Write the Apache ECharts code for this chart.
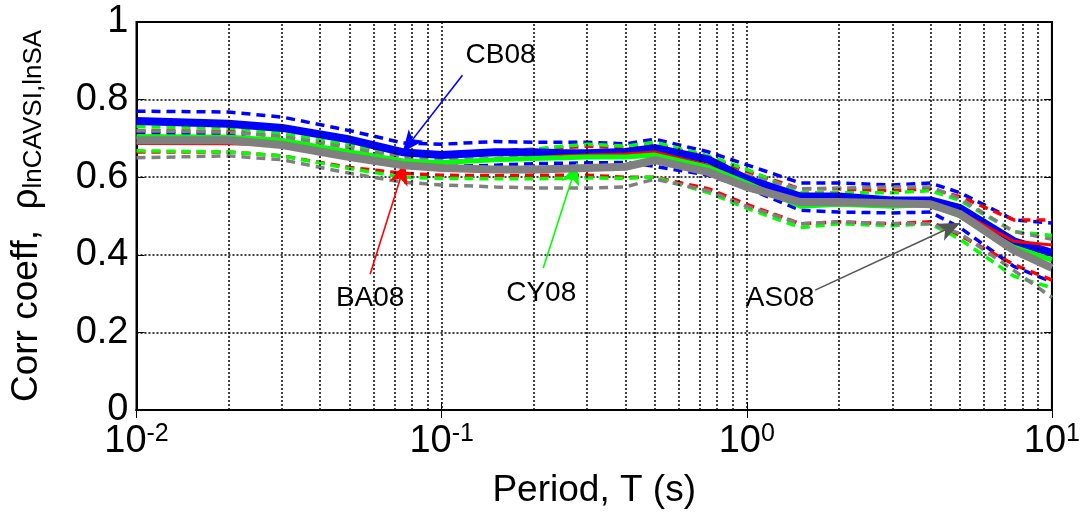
<!DOCTYPE html>
<html><head><meta charset="utf-8">
<script src="https://cdn.jsdelivr.net/npm/echarts@6/dist/echarts.min.js"></script>
<style>html,body{margin:0;padding:0;background:#fff}#c{width:1083px;height:517px}</style>
</head><body><div id="c"></div>
<script>
// Period values (s)
const periods = [0.01,0.02,0.03,0.05,0.075,0.1,0.15,0.2,0.25,0.3,0.4,0.5,0.75,1,1.5,2,3,4,5,7.5,10];

// CB08 (blue)
const cb08   = [0.745,0.738,0.727,0.697,0.664,0.657,0.664,0.664,0.662,0.662,0.665,0.675,0.645,0.595,0.550,0.550,0.540,0.540,0.520,0.435,0.405];
const cb08Hi = [0.770,0.768,0.755,0.720,0.688,0.685,0.692,0.690,0.690,0.690,0.686,0.698,0.665,0.632,0.585,0.585,0.580,0.585,0.560,0.490,0.482];
const cb08Lo = [0.714,0.709,0.690,0.660,0.637,0.627,0.631,0.635,0.636,0.637,0.638,0.628,0.605,0.572,0.515,0.510,0.508,0.510,0.470,0.370,0.330];
// BA08 (red)
const ba08   = [0.687,0.686,0.683,0.660,0.638,0.640,0.645,0.650,0.655,0.657,0.660,0.665,0.630,0.585,0.535,0.535,0.532,0.535,0.510,0.435,0.425];
const ba08Hi = [0.720,0.718,0.705,0.680,0.655,0.660,0.668,0.672,0.676,0.680,0.676,0.685,0.652,0.615,0.570,0.570,0.565,0.570,0.550,0.490,0.490];
const ba08Lo = [0.665,0.665,0.655,0.625,0.610,0.605,0.604,0.605,0.605,0.605,0.600,0.600,0.570,0.530,0.480,0.485,0.480,0.485,0.450,0.375,0.335];
// CY08 (green)
const cy08   = [0.705,0.703,0.695,0.665,0.642,0.638,0.645,0.648,0.650,0.652,0.652,0.657,0.625,0.585,0.525,0.530,0.525,0.530,0.500,0.420,0.387];
const cy08Hi = [0.730,0.727,0.712,0.682,0.660,0.658,0.665,0.672,0.680,0.685,0.680,0.690,0.655,0.620,0.560,0.560,0.560,0.565,0.540,0.460,0.450];
const cy08Lo = [0.668,0.665,0.655,0.622,0.600,0.597,0.596,0.596,0.597,0.598,0.597,0.600,0.560,0.520,0.470,0.480,0.475,0.480,0.440,0.345,0.315];
// AS08 (gray)
const as08   = [0.695,0.695,0.683,0.652,0.631,0.624,0.620,0.620,0.622,0.624,0.627,0.644,0.613,0.575,0.536,0.536,0.533,0.530,0.505,0.412,0.366];
const as08Hi = [0.720,0.716,0.705,0.675,0.650,0.645,0.648,0.655,0.660,0.665,0.665,0.680,0.645,0.605,0.570,0.572,0.575,0.575,0.545,0.460,0.440];
const as08Lo = [0.650,0.655,0.645,0.610,0.587,0.580,0.575,0.572,0.572,0.572,0.575,0.595,0.565,0.525,0.480,0.485,0.480,0.480,0.455,0.360,0.290];

// axis ticks
const yTicks = [0, 0.2, 0.4, 0.6, 0.8, 1];
const xMinorGrid = [0.02,0.03,0.04,0.05,0.06,0.07,0.08,0.09,0.2,0.3,0.4,0.5,0.6,0.7,0.8,0.9,2,3,4,5,6,7,8,9];

// annotation labels and arrows (data coordinates: [period, coeff])
const annotations = [
  {name:'CB08', text:[0.156,0.915], tail:[0.117,0.863], head:[0.0745,0.664], color:'#0000ff'},
  {name:'BA08', text:[0.0583,0.289], tail:[0.0583,0.350], head:[0.076,0.637], color:'#ff0000'},
  {name:'CY08', text:[0.212,0.302], tail:[0.2153,0.366], head:[0.278,0.637], color:'#00ff00'},
  {name:'AS08', text:[1.286,0.289], tail:[1.675,0.309], head:[5.0,0.482], color:'#555555'}
];

const BLUE='#0000ff', RED='#ff0000', GREEN='#00ff00', GRAY='#808080';
function pts(v){ return periods.map((t,i)=>[t, v[i]]); }
function dashed(v, color, z){
  return {type:'line', data:pts(v), symbol:'none', silent:true, z:z,
    lineStyle:{color:color, width:3.5, type:[9,6]}};
}
function solid(v, color, w, z){
  return {type:'line', data:pts(v), symbol:'none', silent:true, z:z,
    lineStyle:{color:color, width:w}};
}

const FONT = 'Liberation Sans, Arial, sans-serif';
const GRIDLINE = {color:'#000', type:[2,2], width:1.5};
const chart = echarts.init(document.getElementById('c'));

const series = [
  // minor grid lines
  {type:'line', data:[], silent:true, z:1,
    markLine:{silent:true, symbol:['none','none'], label:{show:false},
      lineStyle:GRIDLINE,
      data: xMinorGrid.map(v=>({xAxis:v}))}},
  dashed(cb08Hi, BLUE, 3), dashed(cb08Lo, BLUE, 3),
  dashed(ba08Hi, RED, 3), dashed(ba08Lo, RED, 3),
  dashed(cy08Hi, GREEN, 3), dashed(cy08Lo, GREEN, 3),
  dashed(as08Hi, GRAY, 3), dashed(as08Lo, GRAY, 3),
  solid(cb08, BLUE, 8, 4),
  solid(ba08, RED, 3, 5),
  solid(cy08, GREEN, 5, 6),
  solid(as08, GRAY, 8, 7),
  // annotations
  {type:'line', data:[], silent:true, z:10,
    markLine:{silent:true, symbol:['none','arrow'], symbolSize:[14,22], label:{show:false},
      data: annotations.map(a=>[
        {coord:a.tail, lineStyle:{color:a.color, width:1.6, type:'solid'}, itemStyle:{color:a.color}},
        {coord:a.head}
      ])},
    markPoint:{silent:true, symbol:'rect', symbolSize:[1,1], itemStyle:{color:'rgba(0,0,0,0)'},
      data: annotations.map(a=>({coord:a.text, value:a.name,
        label:{show:true, position:'inside', formatter:a.name, color:'#000', fontSize:28, fontFamily:FONT}}))}}
];

chart.setOption({
  animation:false,
  backgroundColor:'#fff',
  grid:{left:136, right:31, top:22, bottom:107, show:true, borderColor:'#000', borderWidth:2, backgroundColor:'transparent'},
  xAxis:[{
    type:'log', logBase:10, min:0.01, max:10,
    name:'Period, T (s)', nameLocation:'middle', nameGap:62,
    nameTextStyle:{fontSize:37, color:'#000', fontFamily:FONT},
    axisLine:{show:true, lineStyle:{color:'#000', width:2}},
    axisTick:{show:true, inside:true, length:8, lineStyle:{color:'#000', width:1}},
    splitLine:{show:true, lineStyle:GRIDLINE},
    axisLabel:{margin:12, color:'#000', fontFamily:FONT,
      formatter:function(v){ const e = Math.round(Math.log10(v)); return '{b|10}{s|'+e+'}'; },
      rich:{b:{fontSize:38, lineHeight:40, fontFamily:FONT, color:'#000'},
            s:{fontSize:25, lineHeight:14, verticalAlign:'top', fontFamily:FONT, color:'#000'}}}
  },{
    type:'log', logBase:10, min:0.01, max:10, position:'top',
    axisLine:{show:true, lineStyle:{color:'#000', width:2}},
    axisTick:{show:true, inside:true, length:8, lineStyle:{color:'#000', width:1}},
    axisLabel:{show:false}, splitLine:{show:false}
  }],
  yAxis:[{
    type:'value', min:0, max:1, interval:0.2,
    name:'{a|Corr coeff,  ρ}{s|lnCAVSI,lnSA}', nameLocation:'middle', nameGap:90, nameRotate:90,
    nameTextStyle:{color:'#000', fontFamily:FONT,
      rich:{a:{fontSize:37, lineHeight:40, fontFamily:FONT, color:'#000'},
            s:{fontSize:26, lineHeight:12, verticalAlign:'bottom', fontFamily:FONT, color:'#000'}}},
    axisLine:{show:true, lineStyle:{color:'#000', width:2}},
    axisTick:{show:true, inside:true, length:8, lineStyle:{color:'#000', width:1}},
    splitLine:{show:true, lineStyle:GRIDLINE},
    axisLabel:{margin:8, fontSize:38, color:'#000', fontFamily:FONT,
      formatter:function(v){ return String(+v.toFixed(1)); }}
  },{
    type:'value', min:0, max:1, interval:0.2, position:'right',
    axisLine:{show:true, lineStyle:{color:'#000', width:2}},
    axisTick:{show:true, inside:true, length:8, lineStyle:{color:'#000', width:1}},
    axisLabel:{show:false}, splitLine:{show:false}
  }],
  series: series
});
</script></body></html>
